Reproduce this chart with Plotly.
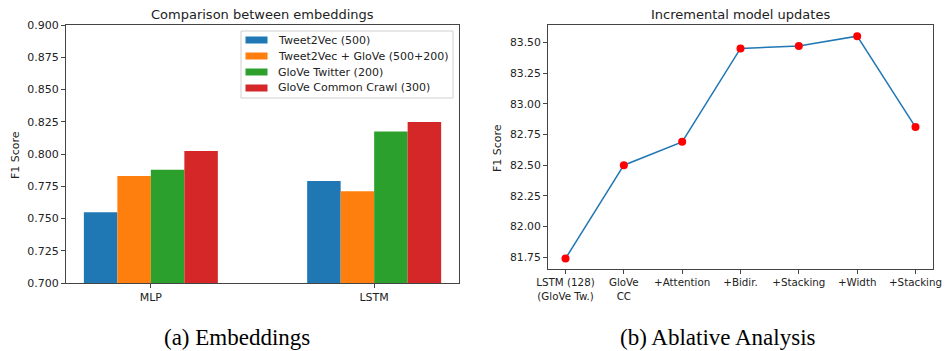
import plotly.graph_objects as go

# Left chart data
groups = ["MLP", "LSTM"]
series_names = ["Tweet2Vec (500)", "Tweet2Vec + GloVe (500+200)", "GloVe Twitter (200)", "GloVe Common Crawl (300)"]
series_values = [
    [0.7549, 0.7790],
    [0.7829, 0.7712],
    [0.7878, 0.8174],
    [0.8023, 0.8249],
]
series_colors = ["#1f77b4", "#ff7f0e", "#2ca02c", "#d62728"]
left_yticks = [0.700, 0.725, 0.750, 0.775, 0.800, 0.825, 0.850, 0.875, 0.900]

# Right chart data
steps = ["LSTM (128)<br>(GloVe Tw.)", "GloVe<br>CC", "+Attention", "+Bidir.", "+Stacking", "+Width", "+Stacking"]
f1_scores = [81.74, 82.50, 82.69, 83.45, 83.47, 83.55, 82.81]
right_yticks = [81.75, 82.00, 82.25, 82.50, 82.75, 83.00, 83.25, 83.50]

W, H = 945, 351
def px_x(a, b):
    return [a / W, b / W]
def px_y(top, bottom):
    return [(H - bottom) / H, (H - top) / H]
def py(y):
    return (H - y) / H

fig = go.Figure()
for name, vals, col in zip(series_names, series_values, series_colors):
    fig.add_trace(go.Bar(x=groups, y=vals, name=name, marker=dict(color=col, line=dict(width=0)),
                         xaxis="x", yaxis="y", showlegend=False))

fig.add_trace(go.Scatter(x=list(range(len(steps))), y=f1_scores, mode="lines+markers",
                         line=dict(color="#1f77b4", width=1.5),
                         marker=dict(color="#ff0000", size=8),
                         showlegend=False, xaxis="x2", yaxis="y2"))

def axis_common(fs):
    return dict(showline=True, linecolor="#444444", linewidth=1, mirror=True,
                ticks="outside", ticklen=4, tickcolor="#444444", showgrid=False,
                zeroline=False, automargin=False, ticklabeloverflow="allow",
                tickfont=dict(family="DejaVu Sans", size=fs, color="#222222"))

fig.update_layout(
    width=W, height=H,
    margin=dict(l=0, r=0, t=0, b=0),
    paper_bgcolor="white", plot_bgcolor="white",
    barmode="group", bargap=0.4, bargroupgap=0,
    showlegend=False,
    xaxis=dict(domain=px_x(66, 459), range=[-0.38, 1.38], **axis_common(11)),
    yaxis=dict(domain=px_y(25, 283), range=[0.7, 0.9], tickvals=left_yticks,
               ticktext=[f"{v:.3f}" for v in left_yticks], anchor="x", **axis_common(11)),
    xaxis2=dict(domain=px_x(548, 933), range=[-0.3, 6.3], tickvals=list(range(len(steps))),
                ticktext=steps, anchor="y2", **axis_common(10.3)),
    yaxis2=dict(domain=px_y(25, 269), range=[81.655, 83.641], tickvals=right_yticks,
                ticktext=[f"{v:.2f}" for v in right_yticks], anchor="x2", **axis_common(10.8)),
    font=dict(family="DejaVu Sans", color="#222222"),
)

# Manual legend (matplotlib-style rectangles)
leg_x0, leg_x1, leg_y0, leg_y1 = 241, 453, 31, 98
fig.add_shape(type="rect", xref="paper", yref="paper",
              x0=leg_x0 / W, x1=leg_x1 / W, y0=py(leg_y1), y1=py(leg_y0),
              line=dict(color="#d0d0d0", width=1), fillcolor="rgba(255,255,255,0.85)")
for i, (name, col) in enumerate(zip(series_names, series_colors)):
    yc = 40 + 16 * i
    fig.add_shape(type="rect", xref="paper", yref="paper",
                  x0=245.5 / W, x1=267.5 / W, y0=py(yc + 3.5), y1=py(yc - 3.5),
                  line=dict(width=0), fillcolor=col)
    fig.add_annotation(xref="paper", yref="paper", showarrow=False, xanchor="left", yanchor="middle",
                       x=276 / W, y=py(yc), text=name,
                       font=dict(family="DejaVu Sans", size=11, color="#222222"))

annots = [
    dict(text="Comparison between embeddings", x=262, y=14, size=13, fam="DejaVu Sans", col="#222222", ang=0, ya="middle"),
    dict(text="Incremental model updates", x=740, y=14, size=13, fam="DejaVu Sans", col="#222222", ang=0, ya="middle"),
    dict(text="F1 Score", x=15, y=155, size=11, fam="DejaVu Sans", col="#222222", ang=-90, ya="middle"),
    dict(text="F1 Score", x=497, y=148, size=11, fam="DejaVu Sans", col="#222222", ang=-90, ya="middle"),
    dict(text="(a) Embeddings", x=237, y=351, size=23, fam="Liberation Serif", col="#000000", ang=0, ya="bottom"),
    dict(text="(b) Ablative Analysis", x=718, y=351, size=23, fam="Liberation Serif", col="#000000", ang=0, ya="bottom"),
]
for a in annots:
    fig.add_annotation(xref="paper", yref="paper", showarrow=False, xanchor="center", yanchor=a["ya"],
                       text=a["text"], x=a["x"] / W, y=py(a["y"]), textangle=a["ang"],
                       borderpad=0,
                       font=dict(family=a["fam"], size=a["size"], color=a["col"]))

fig.write_html("out.html", config={"displayModeBar": False},
               post_script="document.body.style.margin='0';document.body.style.overflow='hidden';")
